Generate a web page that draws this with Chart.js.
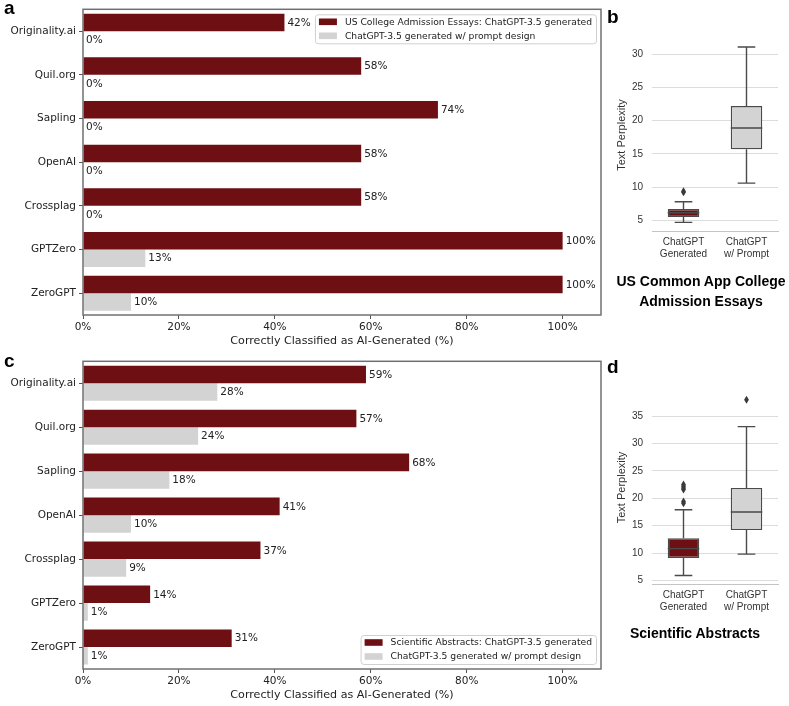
<!DOCTYPE html>
<html>
<head>
<meta charset="utf-8">
<script src="https://cdn.jsdelivr.net/npm/chart.js@4"></script>
<style>
  body { margin: 0; background: #fff; }
  #wrap { position: relative; width: 789px; height: 706px; overflow: hidden; }
  canvas { position: absolute; }
  .lbl { position: absolute; font-family: 'Liberation Sans', Arial, sans-serif; font-weight: bold; font-size: 19px; line-height: 19px; color: #000; }
  .ttl { position: absolute; font-family: 'Liberation Sans', Arial, sans-serif; font-weight: bold; font-size: 14px; line-height: 20px; text-align: center; color: #000; width: 180px; }
</style>
</head>
<body>
<div id="wrap">
  <canvas id="chartA" width="610" height="350" style="left:0;top:0"></canvas>
  <canvas id="chartC" width="610" height="352" style="left:0;top:352px"></canvas>
  <canvas id="chartB" width="189" height="270" style="left:600px;top:0"></canvas>
  <canvas id="chartD" width="189" height="283" style="left:600px;top:340px"></canvas>
  <div class="lbl" style="left:4px;top:-2px">a</div>
  <div class="lbl" style="left:607px;top:7px">b</div>
  <div class="lbl" style="left:4px;top:351px">c</div>
  <div class="lbl" style="left:607px;top:357px">d</div>
  <div class="ttl" style="left:611px;top:271px">US Common App College<br>Admission Essays</div>
  <div class="ttl" style="left:605px;top:623px">Scientific Abstracts</div>
</div>
<script>
// detection rates (%) per detector
const detectors = ['Originality.ai', 'Quil.org', 'Sapling', 'OpenAI', 'Crossplag', 'GPTZero', 'ZeroGPT'];
const essayGenerated = [42, 58, 74, 58, 58, 100, 100];
const essayPrompted = [0, 0, 0, 0, 0, 13, 10];
const abstractGenerated = [59, 57, 68, 41, 37, 14, 31];
const abstractPrompted = [28, 24, 18, 10, 9, 1, 1];
const pctTicks = [0, 20, 40, 60, 80, 100];

// perplexity box plots
const boxGroups = [['ChatGPT', 'Generated'], ['ChatGPT', 'w/ Prompt']];
const essayMin = [4.7, 10.6];
const essayQ1 = [5.5, 15.7];
const essayMedian = [6.15, 18.9];
const essayQ3 = [6.7, 22.2];
const essayMax = [7.8, 31.1];
const essayOutliers = [[9.25, 9.4], []];
const essayTicks = [5, 10, 15, 20, 25, 30];

const abstractMin = [5.9, 9.8];
const abstractQ1 = [9.1, 14.2];
const abstractMedian = [10.8, 17.5];
const abstractQ3 = [12.7, 21.9];
const abstractMax = [17.9, 33.1];
const abstractOutliers = [[19.1, 19.4, 21.6, 21.9, 22.2, 22.5], [38.0]];
const abstractTicks = [5, 10, 15, 20, 25, 30, 35];

const DARK = '#6e1013';
const LIGHT = '#d3d3d3';

Chart.defaults.font.family = '"DejaVu Sans", sans-serif';
Chart.defaults.color = '#222';

// border round the plot area (matplotlib spines)
const framePlugin = {
  id: 'frame',
  afterDatasetsDraw(chart) {
    const { ctx, chartArea: a } = chart;
    ctx.save();
    ctx.strokeStyle = '#707070';
    ctx.lineWidth = 1.5;
    ctx.strokeRect(a.left, a.top, a.right - a.left, a.bottom - a.top);
    ctx.restore();
  }
};

// "42%" text at the end of every bar
const valueLabelPlugin = {
  id: 'valueLabels',
  afterDatasetsDraw(chart) {
    const ctx = chart.ctx;
    ctx.save();
    ctx.font = '10.5px "DejaVu Sans"';
    ctx.fillStyle = '#222';
    ctx.textBaseline = 'middle';
    ctx.textAlign = 'left';
    chart.data.datasets.forEach((ds, di) => {
      chart.getDatasetMeta(di).data.forEach((bar, i) => {
        ctx.fillText(ds.data[i] + '%', bar.x + 3, bar.y + 0.5);
      });
    });
    ctx.restore();
  }
};

function makeLegend(at) {
  return {
    id: 'boxLegend',
    afterDraw(chart) {
      const { ctx, chartArea: a } = chart;
      const items = chart.data.datasets;
      ctx.save();
      ctx.font = '9.2px "DejaVu Sans"';
      const w = Math.max(...items.map(d => ctx.measureText(d.label).width)) + 34;
      const h = 29;
      const x = a.right - 5 - w;
      const y = at === 'bottom' ? a.bottom - 5 - h : a.top + 5;
      ctx.fillStyle = 'rgba(255,255,255,0.85)';
      ctx.strokeStyle = '#d0d0d0';
      ctx.lineWidth = 1;
      ctx.beginPath();
      ctx.roundRect(x + 0.5, y + 0.5, w, h, 3);
      ctx.fill();
      ctx.stroke();
      items.forEach((d, i) => {
        const cy = y + 7.5 + i * 14;
        ctx.fillStyle = d.backgroundColor;
        ctx.fillRect(x + 4, cy - 3.3, 18, 6.6);
        ctx.fillStyle = '#222';
        ctx.textBaseline = 'middle';
        ctx.fillText(d.label, x + 30, cy + 0.5);
      });
      ctx.restore();
    }
  };
}

function barChart(id, gen, prm, genLabel, legendAt, padTop) {
  return new Chart(document.getElementById(id), {
    type: 'bar',
    data: {
      labels: detectors,
      datasets: [
        { label: genLabel, data: gen, backgroundColor: DARK },
        { label: 'ChatGPT-3.5 generated w/ prompt design', data: prm, backgroundColor: LIGHT }
      ]
    },
    options: {
      indexAxis: 'y',
      responsive: false,
      animation: false,
      layout: { padding: { top: padTop, right: 9, left: 0, bottom: 0 } },
      datasets: { bar: { barPercentage: 1, categoryPercentage: 0.8 } },
      plugins: { legend: { display: false }, tooltip: { enabled: false } },
      scales: {
        x: {
          min: 0,
          max: 108,
          afterBuildTicks: s => { s.ticks = pctTicks.map(v => ({ value: v })); },
          afterFit: s => { s.height = 35; },
          grid: { drawOnChartArea: false, tickLength: 4, color: '#555' },
          border: { display: false },
          ticks: { callback: v => v + '%', font: { size: 10.5 }, color: '#222', padding: 2, maxRotation: 0 },
          title: {
            display: true,
            text: 'Correctly Classified as AI-Generated (%)',
            font: { size: 11.1 },
            color: '#222',
            padding: { top: 0, bottom: 2.6 }
          }
        },
        y: {
          afterFit: s => { s.width = 83; },
          grid: { drawOnChartArea: false, tickLength: 4, color: '#555', offset: false },
          border: { display: false },
          ticks: { font: { size: 10.5 }, color: '#222', padding: 3 }
        }
      }
    },
    plugins: [framePlugin, valueLabelPlugin, makeLegend(legendAt)]
  });
}

// whiskers, medians and fliers drawn through the chart scales
function makeWhiskers(mins, q1s, meds, q3s, maxs, outs) {
  return {
    id: 'whiskers',
    afterDatasetsDraw(chart) {
      const { ctx } = chart;
      const ys = chart.scales.y;
      const meta = chart.getDatasetMeta(0);
      ctx.save();
      ctx.strokeStyle = '#4a4a4a';
      ctx.lineWidth = 1.4;
      meta.data.forEach((box, i) => {
        const cx = box.x;
        const half = box.width / 2;
        const cap = box.width * 0.28;
        const yMin = ys.getPixelForValue(mins[i]);
        const yQ1 = ys.getPixelForValue(q1s[i]);
        const yMed = ys.getPixelForValue(meds[i]);
        const yQ3 = ys.getPixelForValue(q3s[i]);
        const yMax = ys.getPixelForValue(maxs[i]);
        ctx.beginPath();
        ctx.moveTo(cx, yQ1); ctx.lineTo(cx, yMin);
        ctx.moveTo(cx - cap, yMin); ctx.lineTo(cx + cap, yMin);
        ctx.moveTo(cx, yQ3); ctx.lineTo(cx, yMax);
        ctx.moveTo(cx - cap, yMax); ctx.lineTo(cx + cap, yMax);
        ctx.moveTo(cx - half, yMed); ctx.lineTo(cx + half, yMed);
        ctx.stroke();
        ctx.fillStyle = '#3a3a3a';
        outs[i].forEach(v => {
          const py = ys.getPixelForValue(v);
          ctx.beginPath();
          ctx.moveTo(cx, py - 4);
          ctx.lineTo(cx + 2.4, py);
          ctx.lineTo(cx, py + 4);
          ctx.lineTo(cx - 2.4, py);
          ctx.closePath();
          ctx.fill();
        });
      });
      ctx.restore();
    }
  };
}

function boxChart(id, mins, q1s, meds, q3s, maxs, outs, ticks, yMin, yMax, padTop) {
  return new Chart(document.getElementById(id), {
    type: 'bar',
    data: {
      labels: boxGroups,
      datasets: [{
        data: q1s.map((v, i) => [v, q3s[i]]),
        backgroundColor: [DARK, LIGHT],
        borderColor: '#4a4a4a',
        borderWidth: 1.4,
        borderSkipped: false,
        barPercentage: 0.5,
        categoryPercentage: 1
      }]
    },
    options: {
      responsive: false,
      animation: false,
      layout: { padding: { top: padTop, right: 11, left: 0, bottom: 0 } },
      plugins: { legend: { display: false }, tooltip: { enabled: false } },
      scales: {
        x: {
          afterFit: s => { s.height = 39; },
          grid: { display: false, drawTicks: false },
          border: { display: true, color: '#c4c4c4' },
          ticks: { font: { family: '"Liberation Sans", Arial, sans-serif', size: 10, lineHeight: 1.23 }, color: '#333', padding: 5, maxRotation: 0 }
        },
        y: {
          min: yMin,
          max: yMax,
          afterBuildTicks: s => { s.ticks = ticks.map(v => ({ value: v })); },
          afterFit: s => { s.width = 52; },
          grid: { color: '#dcdcdc', drawTicks: false },
          border: { display: false },
          ticks: { font: { family: '"Liberation Sans", Arial, sans-serif', size: 10 }, color: '#333', padding: 9 },
          title: {
            display: true,
            text: 'Text Perplexity',
            font: { family: '"Liberation Sans", Arial, sans-serif', size: 11 },
            color: '#333',
            padding: { top: 15, bottom: 0 }
          }
        }
      }
    },
    plugins: [makeWhiskers(mins, q1s, meds, q3s, maxs, outs)]
  });
}

barChart('chartA', essayGenerated, essayPrompted, 'US College Admission Essays: ChatGPT-3.5 generated', 'top', 6);
barChart('chartC', abstractGenerated, abstractPrompted, 'Scientific Abstracts: ChatGPT-3.5 generated', 'bottom', 7);
boxChart('chartB', essayMin, essayQ1, essayMedian, essayQ3, essayMax, essayOutliers, essayTicks, 3.4, 32.3, 39);
boxChart('chartD', abstractMin, abstractQ1, abstractMedian, abstractQ3, abstractMax, abstractOutliers, abstractTicks, 4.34, 39.6, 51);
</script>
</body>
</html>
